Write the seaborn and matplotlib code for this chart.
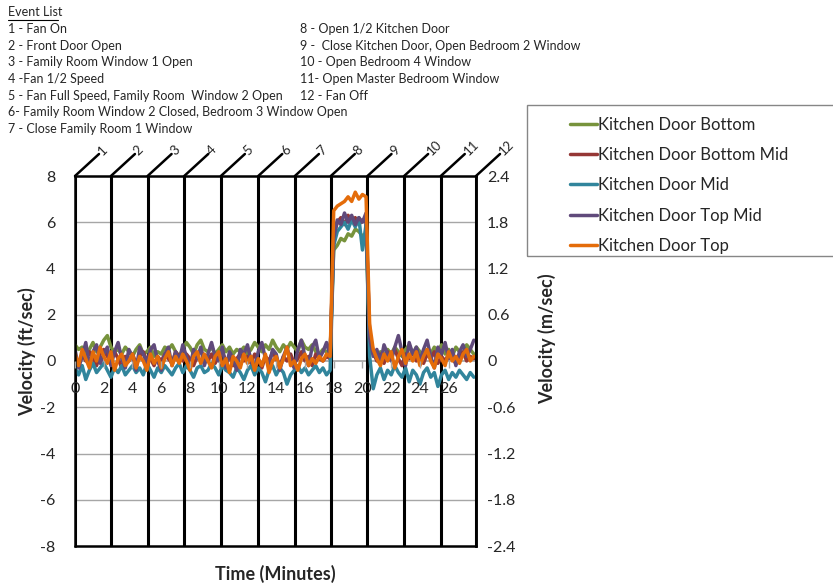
import matplotlib
matplotlib.use('Agg')
import matplotlib.pyplot as plt
from matplotlib.lines import Line2D
from matplotlib.patches import Rectangle
import seaborn as sns
import pandas as pd
import numpy as np

sns.set_theme(style='white')
plt.rcParams['font.family'] = ['Lato', 'DejaVu Sans']
plt.rcParams['axes.unicode_minus'] = False

# tempo das amostras (minutos), uma a cada 15 s
tempo = np.arange(0, 28, 0.25)

series = ['Kitchen Door Bottom', 'Kitchen Door Bottom Mid', 'Kitchen Door Mid',
          'Kitchen Door Top Mid', 'Kitchen Door Top']
cores = ['#77933C', '#953735', '#31859C', '#604A7B', '#E46C0A']

bottom = [0.7, 0.5, 0.6, 0.3, 0.5, 0.8, 0.4, 0.6,
          0.9, 1.1, 0.6, 0.4, 0.5, 0.3, 0.6, 0.4,
          0.2, 0.5, 0.7, 0.3, 0.4, 0.6, 0.2, 0.4,
          0.3, 0.6, 0.5, 0.7, 0.4, 0.2, 0.5, 0.8,
          0.6, 0.3, 0.7, 0.9, 0.5, 0.4, 0.6, 0.3,
          0.5, 0.7, 0.4, 0.6, 0.3, 0.5, 0.4, 0.6,
          0.3, 0.5, 0.8, 0.6, 0.4, 0.7, 0.5, 0.9,
          0.6, 0.4, 0.7, 0.5, 0.8, 0.6, 0.4, 0.9,
          0.6, 0.5, 0.7, 0.4, 0.3, 0.5, 0.4, 0.3,
          4.8, 5.0, 5.3, 5.2, 5.5, 5.4, 5.7, 5.6, 5.4, 5.5,
          0.9, 0.3, 0.1, 0.4, 0.2, 0.5, 0.3, 0.6,
          0.4, 0.2, 0.5, 0.7, 0.3, 0.6, 0.4, 0.2,
          0.5, 0.3, 0.6, 0.4, 0.7, 0.3, 0.5, 0.2,
          0.6, 0.4, 0.3, 0.7, 0.5, 0.3]

bottom_mid = [0.2, -0.1, 0.3, 0.0, 0.4, 0.1, -0.2, 0.3,
              0.5, 0.2, 0.0, 0.4, 0.1, -0.3, 0.2, 0.0,
              0.3, -0.1, 0.2, 0.4, 0.0, 0.1, -0.2, 0.2,
              0.0, 0.3, 0.1, -0.1, 0.4, 0.2, 0.0, 0.3,
              0.1, -0.2, 0.2, 0.5, 0.1, 0.0, 0.3, -0.1,
              0.2, 0.4, 0.0, 0.2, -0.2, 0.1, 0.3, 0.0,
              0.2, -0.1, 0.3, 0.1, -0.3, 0.2, 0.0, 0.4,
              0.1, -0.2, 0.2, 0.0, 0.3, -0.1, 0.1, 0.4,
              0.0, 0.2, -0.2, 0.3, 0.1, 0.0, 0.2, 0.1,
              5.4, 6.0, 6.2, 5.9, 6.3, 6.0, 6.2, 5.9, 6.1, 6.0,
              1.2, 0.4, 0.0, 0.3, -0.1, 0.4, 0.2, 0.5,
              0.1, -0.2, 0.3, 0.1, 0.4, 0.0, 0.2, -0.1,
              0.3, 0.1, 0.4, -0.1, 0.2, 0.0, 0.3, 0.1,
              -0.1, 0.2, 0.4, 0.0, 0.2, 0.1]

mid = [-0.3, -0.6, -0.2, -0.8, -0.4, -0.1, -0.5, -0.3,
       -0.1, -0.4, -0.7, -0.3, -0.5, -0.2, -0.6, -0.4,
       -0.2, -0.5, -0.3, -0.6, -0.1, -0.4, -0.7, -0.3,
       -0.5, -0.2, -0.4, -0.6, -0.3, -0.1, -0.5, -0.2,
       -0.4, -0.7, -0.3, -0.2, -0.5, -0.4, -0.1, -0.3,
       -0.6, -0.2, -0.4, -0.5, -0.7, -0.3, -0.5, -0.8,
       -0.4, -0.2, -0.6, -0.3, -0.5, -0.9, -0.4, -0.2,
       -0.6, -0.3, -0.5, -1.0, -0.6, -0.4, -0.2, -0.5,
       -0.3, -0.6, -0.4, -0.2, -0.5, -0.3, -0.6, -0.4,
       5.0, 5.6, 5.8, 6.0, 5.7, 6.1, 5.8, 6.2, 4.8, 5.9,
       0.2, -1.2, -0.6, -0.3, -0.8, -0.4, -0.6, -0.2,
       -0.5, -0.7, -0.3, -0.9, -0.4, -0.6, -1.0, -0.5,
       -0.3, -0.7, -0.5, -1.1, -0.6, -0.4, -0.8, -0.5,
       -0.7, -0.4, -0.6, -0.8, -0.5, -0.7]

top_mid = [0.5, -0.3, 0.2, 0.8, -0.2, 0.4, 0.7, -0.1,
           0.3, 0.6, -0.2, 0.4, 0.8, 0.1, -0.3, 0.5,
           0.2, -0.4, 0.6, 0.3, -0.1, 0.5, 0.7, 0.0,
           -0.4, 0.3, 0.6, -0.2, 0.4, 0.0, 0.7, 0.2,
           -0.3, 0.5, 0.1, 0.6, -0.2, 0.3, 0.8, 0.2,
           0.0, 0.6, -0.3, 0.4, 0.1, -0.4, 0.5, 0.3,
           0.7, 0.0, -0.3, 0.4, 0.8, 0.1, -0.2, 0.5,
           0.3, -0.4, 0.2, 0.6, 0.0, -0.3, 0.5, 0.9,
           0.2, -0.2, 0.6, 0.9, 0.1, 0.4, 0.8, 0.2,
           5.3, 6.1, 5.9, 6.4, 6.0, 6.3, 5.9, 6.2, 6.0, 6.4,
           1.0, 0.2, 0.5, -0.1, 0.7, 0.3, 0.0, 0.6,
           1.1, 0.4, -0.2, 0.8, 0.3, 0.6, 0.0, 0.5,
           0.9, 0.2, -0.3, 0.6, 0.3, 0.8, 0.1, 0.5,
           -0.2, 0.4, 0.7, 0.2, 0.5, 0.9]

top = [0.3, -0.2, 0.5, 0.1, -0.3, 0.4, 0.0, 0.6,
       0.2, -0.1, 0.4, -0.4, 0.1, 0.3, -0.2, 0.0,
       0.3, -0.3, 0.2, 0.0, -0.4, 0.3, -0.1, 0.2,
       -0.3, 0.1, 0.4, -0.2, 0.2, -0.1, 0.3, 0.0,
       -0.4, 0.2, 0.4, -0.1, 0.3, 0.0, -0.3, 0.2,
       0.4, -0.2, 0.1, -0.5, 0.2, 0.0, -0.3, 0.3,
       -0.1, 0.2, -0.4, 0.1, -0.2, 0.3, -0.5, 0.0,
       0.2, -0.3, 0.1, 0.6, -0.2, 0.0, -0.4, 0.1,
       0.3, -0.2, 0.1, -0.1, 0.2, 0.0, 0.3, 0.2,
       6.5, 6.7, 6.8, 6.9, 7.1, 6.9, 7.3, 7.0, 7.2, 7.1,
       1.6, 0.5, 0.1, -0.2, 0.3, 0.0, 0.4, -0.3,
       0.2, 0.5, -0.1, 0.3, 0.0, 0.4, -0.2, 0.2,
       0.5, 0.0, -0.3, 0.3, 0.1, -0.2, 0.4, 0.0,
       0.2, -0.1, 0.3, 0.5, 0.0, 0.2]

# eventos (minutos) e descricoes
eventos = [0, 2.5, 5.05, 7.6, 10.15, 12.75, 15.3, 17.8, 20.35, 22.9, 25.45, 27.9]
eventos_col1 = ['1 - Fan On', '2 - Front Door Open', '3 - Family Room Window 1 Open',
                '4 -Fan 1/2 Speed', '5 - Fan Full Speed, Family Room  Window 2 Open',
                '6- Family Room Window 2 Closed, Bedroom 3 Window Open',
                '7 - Close Family Room 1 Window']
eventos_col2 = ['8 - Open 1/2 Kitchen Door', '9 -  Close Kitchen Door, Open Bedroom 2 Window',
                '10 - Open Bedroom 4 Window', '11- Open Master Bedroom Window', '12 - Fan Off']

yticks_ft = [-8, -6, -4, -2, 0, 2, 4, 6, 8]
yticks_m = [-2.4, -1.8, -1.2, -0.6, 0, 0.6, 1.2, 1.8, 2.4]
yticklabels_m = ['-2.4', '-1.8', '-1.2', '-0.6', '0', '0.6', '1.2', '1.8', '2.4']
xticks = [0, 2, 4, 6, 8, 10, 12, 14, 16, 18, 20, 22, 24, 26]

df = pd.DataFrame({'Tempo': np.tile(tempo, 5),
                   'Velocidade': bottom + bottom_mid + mid + top_mid + top,
                   'Serie': np.repeat(series, len(tempo))})

fig = plt.figure(figsize=(8.33, 5.86), dpi=100)
ax = fig.add_axes([75/833, 40/586, 401/833, 370/586])

# grade horizontal
for y in [-6, -4, -2, 2, 4, 6]:
    ax.axhline(y, color='#A6A6A6', lw=1, zorder=0.5)

# linhas de evento
ax.vlines(eventos, -8, 8, color='black', lw=2.2, zorder=1.5)
for i, t in enumerate(eventos):
    ax.annotate('', xy=(t, 8), xytext=(24, 22), textcoords='offset pixels',
                arrowprops=dict(arrowstyle='-', lw=1.8, color='black', shrinkA=0, shrinkB=0),
                annotation_clip=False)
    ax.annotate(str(i + 1), xy=(t, 8), xytext=(25, 23), textcoords='offset pixels',
                rotation=45, rotation_mode='anchor', ha='left', va='center',
                fontsize=9.5, annotation_clip=False)

sns.lineplot(data=df, x='Tempo', y='Velocidade', hue='Serie', hue_order=series,
             palette=cores, estimator=None, sort=False, lw=2.5, legend=False, ax=ax, zorder=2)

ax.set_xlim(0, 27.9)
ax.set_ylim(-8, 8)
ax.set_xticks(xticks)
ax.set_yticks(yticks_ft)
ax.set_yticklabels([str(v) for v in yticks_ft])
ax.set_xlabel('')
ax.set_ylabel('')
ax.spines['bottom'].set_position(('data', 0))
ax.spines['bottom'].set_color('#A6A6A6')
ax.spines['bottom'].set_zorder(0.6)
for s in ['left', 'top', 'right']:
    ax.spines[s].set_color('black')
    ax.spines[s].set_linewidth(1.8)
ax.set_axisbelow(False)
ax.tick_params(axis='x', direction='out', length=5, color='#A6A6A6', width=1,
               pad=10, labelsize=11.5, bottom=True)
ax.tick_params(axis='y', length=0, pad=14, labelsize=11.5)
ax.axhline(-8, color='black', lw=1.8, clip_on=False, zorder=3)

ax2 = ax.twinx()
ax2.set_ylim(-2.4, 2.4)
ax2.set_yticks(yticks_m)
ax2.set_yticklabels(yticklabels_m)
ax2.tick_params(axis='y', length=0, pad=8, labelsize=11.5)
for s in ['left', 'top', 'bottom']:
    ax2.spines[s].set_visible(False)
ax2.spines['right'].set_color('black')
ax2.spines['right'].set_linewidth(1.8)
ax2.grid(False)

# titulos dos eixos
fig.text(27/833, 1 - 352/586, 'Velocity (ft/sec)', rotation=90, ha='center', va='center',
         fontsize=13, fontweight='bold')
fig.text(547/833, 1 - 339/586, 'Velocity (m/sec)', rotation=90, ha='center', va='center',
         fontsize=13, fontweight='bold')
fig.text(275/833, 1 - 574/586, 'Time (Minutes)', ha='center', va='center',
         fontsize=13, fontweight='bold')

# lista de eventos
fig.text(8/833, 1 - 12/586, 'Event List', fontsize=9, va='center')
fig.add_artist(Line2D([8/833, 58/833], [1 - 20/586, 1 - 20/586], color='black', lw=0.8))
for k, txt in enumerate(eventos_col1):
    fig.text(8/833, 1 - (29 + k*16.7)/586, txt, fontsize=9, va='center')
for k, txt in enumerate(eventos_col2):
    fig.text(300/833, 1 - (29 + k*16.7)/586, txt, fontsize=9, va='center')

# legenda
fig.add_artist(Rectangle((527/833, 1 - 256/586), 320/833, 151/586, transform=fig.transFigure,
                         fill=False, edgecolor='#868686', lw=1, clip_on=False))
handles = [Line2D([], [], color=c, lw=2.5) for c in cores]
fig.legend(handles, series, loc='upper left', bbox_to_anchor=(570/833, 1 - 117/586),
           frameon=False, borderpad=0, borderaxespad=0, handlelength=1.6, handletextpad=0.1,
           labelspacing=0.85, fontsize=12)

fig.savefig('out.png', dpi=100)
